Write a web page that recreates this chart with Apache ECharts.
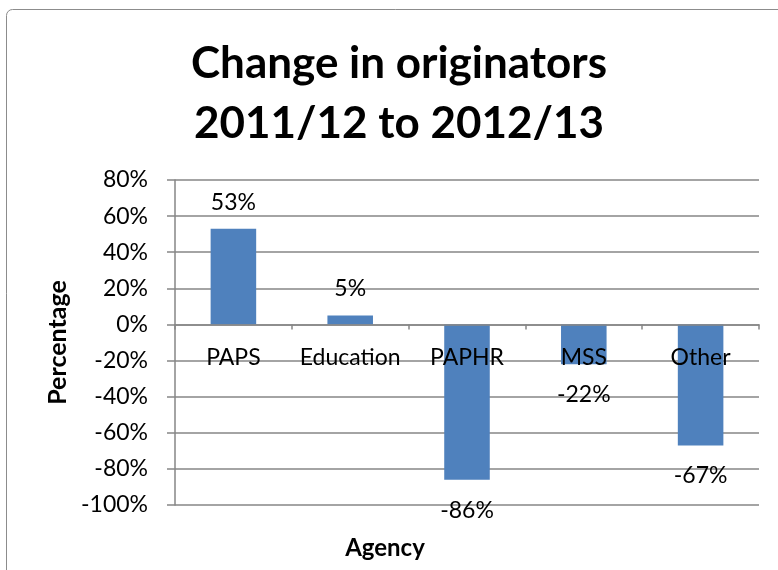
<!DOCTYPE html>
<html>
<head>
<meta charset="utf-8">
<script src="https://cdn.jsdelivr.net/npm/echarts@6/dist/echarts.min.js"></script>
<style>html,body{margin:0;padding:0;background:#fff;}#c{width:778px;height:570px;}</style>
</head>
<body>
<div id="c"></div>
<script>
const categories = ['PAPS', 'Education', 'PAPHR', 'MSS', 'Other'];
const values = [53, 5, -86, -22, -67];
const yTicks = { min: -100, max: 80, interval: 20 };
const titleText = 'Change in originators\n2011/12 to 2012/13';
const yName = 'Percentage';
const xName = 'Agency';

const FONT = 'Lato';
const chart = echarts.init(document.getElementById('c'));
const option = {
  animation: false,
  backgroundColor: '#fff',
  title: {
    text: titleText,
    left: 394, top: 29, textAlign: 'center',
    textStyle: { fontFamily: FONT, fontWeight: 'bold', fontSize: 44, lineHeight: 60, color: '#000' }
  },
  graphic: [
    { type: 'rect', shape: { x: 6.5, y: 9.5, width: 800, height: 600, r: 6 },
      style: { fill: 'none', stroke: '#8c8c8c', lineWidth: 1 }, z: -1 },
    { type: 'text', x: 385, y: 548,
      style: { text: xName, fontFamily: FONT, fontWeight: 'bold', fontSize: 24, fill: '#000', textAlign: 'center', textVerticalAlign: 'middle' } }
  ],
  grid: { left: 175, right: 19, top: 180, bottom: 65 },
  xAxis: {
    type: 'category', data: categories, z: 5,
    axisLine: { onZero: false, lineStyle: { color: '#868686', width: 1.5 } },
    axisTick: { show: true, length: 5, inside: false, interval: 0, lineStyle: { color: '#868686', width: 1.5 } },
    axisLabel: { margin: 22, interval: 0, hideOverlap: false, fontFamily: FONT, fontSize: 23, color: '#000' }
  },
  yAxis: {
    type: 'value', min: yTicks.min, max: yTicks.max, interval: yTicks.interval,
    name: yName, nameLocation: 'middle', nameGap: 102,
    nameTextStyle: { fontFamily: FONT, fontWeight: 'bold', fontSize: 25, color: '#000' },
    axisLine: { show: true, lineStyle: { color: '#868686', width: 1.5 } },
    axisTick: { show: true, length: 8, lineStyle: { color: '#868686', width: 1.5 } },
    axisLabel: { formatter: '{value}%', margin: 27, fontFamily: FONT, fontSize: 23, color: '#000' },
    splitLine: { lineStyle: { color: '#868686', width: 1.5 } }
  },
  series: [{
    type: 'bar', barWidth: '39%',
    itemStyle: { color: '#4F81BD' },
    data: values.map(v => ({
      value: v,
      label: { show: true, position: v >= 0 ? 'top' : 'bottom', distance: v >= 0 ? 15 : 19,
        formatter: '{c}%', fontFamily: FONT, fontSize: 23, color: '#000' }
    }))
  }]
};
chart.setOption(option);
// Place the category axis on the value axis' zero line, using the library's own scale
const zeroY = chart.convertToPixel({ yAxisIndex: 0 }, 0);
const bottomY = chart.convertToPixel({ yAxisIndex: 0 }, yTicks.min);
chart.setOption({ xAxis: { offset: -(bottomY - zeroY) } });
</script>
</body>
</html>
